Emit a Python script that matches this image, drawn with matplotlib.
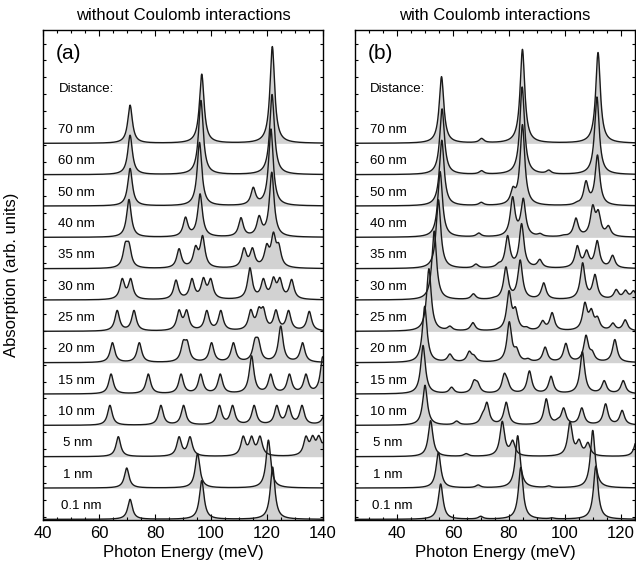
import numpy as np
import matplotlib
matplotlib.use('Agg')
import matplotlib.pyplot as plt
from matplotlib.ticker import MultipleLocator, FixedLocator, NullFormatter

plt.rcParams['font.family'] = ['Liberation Sans', 'DejaVu Sans']

# Row labels, bottom to top
distances = ['0.1 nm', '1 nm', '5 nm', '10 nm', '15 nm', '20 nm', '25 nm',
             '30 nm', '35 nm', '40 nm', '50 nm', '60 nm', '70 nm']

# ---------- panel (a): without Coulomb interactions (peak energy meV, apparent height in row units)
a_0p1_E = [71.1, 96.7, 122.0]
a_0p1_h = [0.64, 1.24, 1.67]
a_1_E = [69.9, 95.2, 120.5]
a_1_h = [0.64, 1.10, 1.53]
a_5_E = [66.9, 88.6, 92.5, 111.5, 114.5, 117.5, 133.9, 136.3, 138.5, 141.0]
a_5_h = [0.64, 0.64, 0.64, 0.66, 0.66, 0.66, 0.66, 0.68, 0.68, 0.60]
a_10_E = [63.9, 82.1, 90.2, 103.0, 107.7, 115.4, 123.5, 127.7, 132.5, 141.2]
a_10_h = [0.64, 0.64, 0.64, 0.64, 0.64, 0.64, 0.64, 0.64, 0.64, 0.64]
a_15_E = [64.3, 77.6, 89.3, 96.3, 103.3, 114.5, 121.3, 128.0, 133.9, 139.9]
a_15_h = [0.64, 0.64, 0.64, 0.64, 0.64, 1.22, 0.64, 0.64, 0.64, 1.19]
a_20_E = [64.8, 74.4, 90.1, 91.5, 100.2, 108.0, 115.7, 116.9, 124.9, 132.7]
a_20_h = [0.64, 0.64, 0.72, 0.72, 0.64, 0.64, 0.78, 0.78, 1.17, 0.64]
a_25_E = [66.5, 72.5, 88.6, 91.3, 98.5, 103.5, 114.2, 117.1, 118.7, 123.2, 127.7, 135.1]
a_25_h = [0.67, 0.67, 0.69, 0.69, 0.67, 0.67, 0.70, 0.78, 0.78, 0.69, 0.67, 0.64]
a_30_E = [68.3, 71.3, 87.5, 93.2, 97.3, 99.9, 113.9, 118.7, 122.3, 124.6, 128.8]
a_30_h = [0.69, 0.69, 0.64, 0.69, 0.72, 0.69, 1.03, 0.69, 0.74, 0.72, 0.66]
a_35_E = [69.4, 70.7, 88.6, 94.5, 97.0, 111.8, 114.8, 119.9, 122.3, 124.2]
a_35_h = [0.85, 0.85, 0.64, 0.74, 1.06, 0.67, 0.67, 0.80, 1.17, 0.82]
a_40_E = [70.7, 90.9, 96.1, 110.7, 117.2, 121.7]
a_40_h = [1.21, 0.65, 1.39, 0.63, 0.70, 2.08]
a_50_E = [71.1, 95.9, 115.1, 121.4]
a_50_h = [1.20, 2.03, 0.60, 2.46]
a_60_E = [71.1, 96.4, 121.8]
a_60_h = [1.26, 2.37, 2.56]
a_70_E = [71.1, 96.7, 121.9]
a_70_h = [1.22, 2.21, 3.09]

# ---------- panel (b): with Coulomb interactions
b_0p1_E = [55.6, 69.9, 84.2, 95.4, 111.0]
b_0p1_h = [1.13, 0.10, 1.66, 0.05, 1.70]
b_1_E = [54.8, 69.0, 83.1, 94.2, 109.9]
b_1_h = [1.14, 0.10, 1.67, 0.07, 1.84]
b_5_E = [52.0, 64.7, 77.6, 81.3, 101.8, 105.0, 108.2, 125.6]
b_5_h = [1.15, 0.10, 1.13, 0.53, 1.12, 0.56, 0.46, 0.55]
b_10_E = [50.0, 61.3, 70.5, 72.1, 79.0, 93.3, 97.4, 99.5, 106.0, 114.5, 120.4]
b_10_h = [1.28, 0.14, 0.40, 0.74, 0.74, 0.85, 0.22, 0.56, 0.56, 0.69, 0.48]
b_15_E = [49.3, 59.5, 67.5, 68.8, 78.3, 79.4, 87.3, 95.0, 106.2, 114.0, 120.8]
b_15_h = [1.55, 0.22, 0.45, 0.40, 0.66, 0.50, 0.74, 0.57, 1.35, 0.43, 0.43]
b_20_E = [49.9, 58.9, 65.8, 67.5, 80.1, 82.7, 86.8, 92.9, 100.3, 107.5, 109.7, 117.8]
b_20_h = [1.80, 0.28, 0.37, 0.25, 1.31, 0.50, 0.14, 0.50, 0.62, 0.88, 0.40, 0.74]
b_25_E = [51.4, 58.9, 67.1, 80.0, 82.3, 86.3, 92.0, 95.4, 107.1, 109.4, 111.6, 117.1, 121.5]
b_25_h = [2.00, 0.17, 0.28, 1.30, 0.78, 0.15, 0.35, 0.60, 0.93, 0.73, 0.48, 0.27, 0.37]
b_30_E = [53.3, 67.3, 74.5, 78.9, 84.0, 92.4, 106.3, 110.7, 118.3, 121.6, 124.5]
b_30_h = [2.20, 0.20, 0.09, 1.06, 1.28, 0.55, 1.19, 0.82, 0.34, 0.32, 0.30]
b_35_E = [54.8, 68.2, 76.3, 79.5, 84.5, 91.0, 104.4, 107.7, 111.5, 117.0]
b_35_h = [2.20, 0.15, 0.20, 1.06, 1.44, 0.30, 0.74, 0.60, 0.90, 0.43]
b_40_E = [55.4, 69.2, 81.3, 85.1, 91.1, 99.4, 103.9, 109.9, 111.9, 115.5]
b_40_h = [2.10, 0.14, 1.30, 1.25, 0.13, 0.08, 0.62, 1.04, 0.88, 0.38]
b_50_E = [56.0, 70.1, 81.4, 84.8, 104.2, 107.5, 111.6]
b_50_h = [2.10, 0.12, 0.62, 2.60, 0.14, 0.81, 1.63]
b_60_E = [56.1, 70.2, 84.7, 94.2, 111.4]
b_60_h = [2.10, 0.13, 2.80, 0.15, 2.48]
b_70_E = [55.9, 70.2, 84.8, 111.8]
b_70_h = [2.13, 0.16, 3.00, 2.90]

rows_a = [(a_0p1_E, a_0p1_h), (a_1_E, a_1_h), (a_5_E, a_5_h), (a_10_E, a_10_h),
          (a_15_E, a_15_h), (a_20_E, a_20_h), (a_25_E, a_25_h), (a_30_E, a_30_h),
          (a_35_E, a_35_h), (a_40_E, a_40_h), (a_50_E, a_50_h), (a_60_E, a_60_h),
          (a_70_E, a_70_h)]
rows_b = [(b_0p1_E, b_0p1_h), (b_1_E, b_1_h), (b_5_E, b_5_h), (b_10_E, b_10_h),
          (b_15_E, b_15_h), (b_20_E, b_20_h), (b_25_E, b_25_h), (b_30_E, b_30_h),
          (b_35_E, b_35_h), (b_40_E, b_40_h), (b_50_E, b_50_h), (b_60_E, b_60_h),
          (b_70_E, b_70_h)]

GAMMA = 1.0  # Lorentzian half width (meV)


def lor(x, x0):
    return GAMMA ** 2 / ((x - x0) ** 2 + GAMMA ** 2)


def spectrum(x, E, h):
    E = np.asarray(E, float)
    h = np.asarray(h, float)
    M = lor(E[:, None], E[None, :])
    amp = np.clip(np.linalg.solve(M, h), 0, None)
    return (amp[None, :] * lor(x[:, None], E[None, :])).sum(axis=1)


fig = plt.figure(figsize=(6.36, 5.65), dpi=100)
W, H = 636.0, 565.0
axA = fig.add_axes([43 / W, 45 / H, 280 / W, 490 / H])
axB = fig.add_axes([355 / W, 45 / H, 280 / W, 490 / H])

FILL = '#d2d2d2'
LINE = '#1a1a1a'
ROW_PX = 31.33
ytick_pos = [(519.3 - (128 + 16.9 * n)) / ROW_PX for n in range(-5, 24)]


def draw(ax, rows, xlim, majors, lab_x, single_x, small_x, panel, title_x, title):
    x = np.linspace(xlim[0], xlim[1], 4000)
    for k, (E, h) in enumerate(rows):
        y = k + spectrum(x, E, h)
        ax.fill_between(x, k, y, color=FILL, lw=0, zorder=1)
        ax.plot(x, y, color=LINE, lw=1.0, zorder=2)
        lab = distances[k]
        if lab in ('5 nm', '1 nm'):
            lx = single_x
        elif lab == '0.1 nm':
            lx = small_x
        else:
            lx = lab_x
        ax.text(lx, k + 0.425, lab, fontsize=9.5, ha='left', va='center', zorder=3)
    ax.text(lab_x, (519.3 - 89) / ROW_PX, 'Distance:', fontsize=9.5, ha='left', va='center')
    ax.text(lab_x - 0.8, (519.3 - 53) / ROW_PX, panel, fontsize=15, ha='left', va='center')
    ax.set_xlim(*xlim)
    ax.set_ylim(-0.02, (519.3 - 30) / ROW_PX)
    ax.xaxis.set_major_locator(FixedLocator(majors))
    ax.xaxis.set_minor_locator(MultipleLocator(5))
    ax.yaxis.set_major_locator(FixedLocator([]))
    ax.yaxis.set_minor_locator(FixedLocator(ytick_pos))
    ax.yaxis.set_minor_formatter(NullFormatter())
    ax.tick_params(which='both', direction='in', top=True, right=True, width=0.8)
    ax.tick_params(which='major', length=4.5, labelsize=12, pad=4)
    ax.tick_params(which='minor', length=2.5)
    for s in ax.spines.values():
        s.set_linewidth(1.0)
    fig.text(title_x, 1 - 15 / H, title, fontsize=12, ha='center', va='center')
    fig.text(title_x, 1 - 552 / H, 'Photon Energy (meV)', fontsize=12, ha='center', va='center')


draw(axA, rows_a, (40, 140), [40, 60, 80, 100, 120, 140], 45.5, 47.2, 46.3, '(a)',
     183 / W, 'without Coulomb interactions')
draw(axB, rows_b, (25, 125), [40, 60, 80, 100, 120], 30.3, 31.5, 31.0, '(b)',
     495 / W, 'with Coulomb interactions')

fig.text(12 / W, 1 - 275 / H, 'Absorption (arb. units)', fontsize=12, rotation=90,
         ha='center', va='center')

fig.savefig('out.png', dpi=100)
